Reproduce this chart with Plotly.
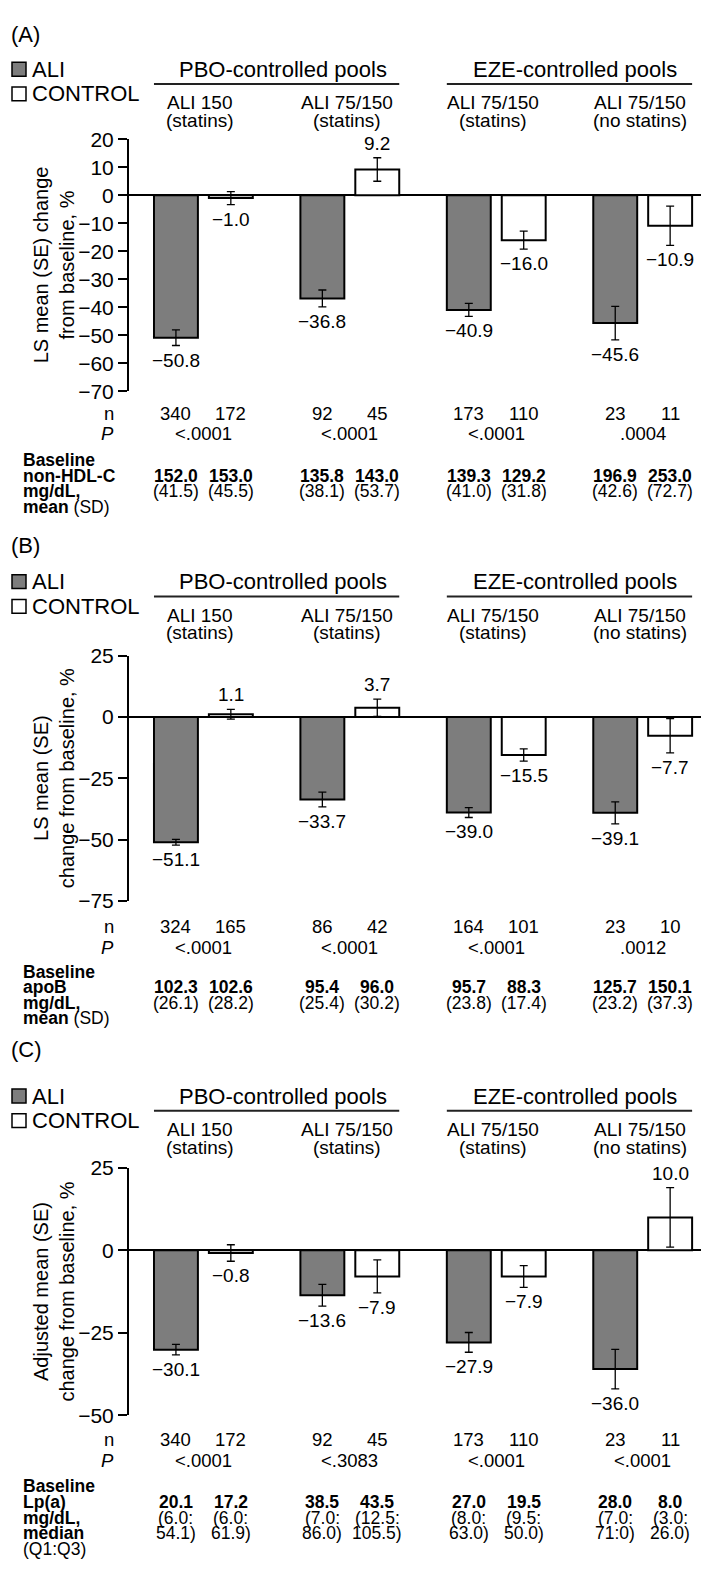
import plotly.graph_objects as go

W, H = 709, 1570
FONT = "Liberation Sans, Arial, Helvetica, sans-serif"

# ---------------- data ----------------
groups_top = ["ALI 150", "ALI 75/150", "ALI 75/150", "ALI 75/150"]
groups_bot = ["(statins)", "(statins)", "(statins)", "(no statins)"]
pools = ["PBO-controlled pools", "EZE-controlled pools"]

# Panel A: non-HDL-C
a_ali = [-50.8, -36.8, -40.9, -45.6]
a_ali_se = [2.8, 3.0, 2.3, 6.0]
a_ctl = [-1.0, 9.2, -16.0, -10.9]
a_ctl_se = [2.3, 4.2, 3.2, 7.0]
a_n_ali = ["340", "92", "173", "23"]
a_n_ctl = ["172", "45", "110", "11"]
a_p = ["<.0001", "<.0001", "<.0001", ".0004"]
a_base_ali = ["152.0", "135.8", "139.3", "196.9"]
a_base_ctl = ["153.0", "143.0", "129.2", "253.0"]
a_sd_ali = ["(41.5)", "(38.1)", "(41.0)", "(42.6)"]
a_sd_ctl = ["(45.5)", "(53.7)", "(31.8)", "(72.7)"]

# Panel B: apoB
b_ali = [-51.1, -33.7, -39.0, -39.1]
b_ali_se = [1.2, 3.0, 2.0, 4.5]
b_ctl = [1.1, 3.7, -15.5, -7.7]
b_ctl_se = [2.0, 3.5, 2.5, 7.0]
b_n_ali = ["324", "86", "164", "23"]
b_n_ctl = ["165", "42", "101", "10"]
b_p = ["<.0001", "<.0001", "<.0001", ".0012"]
b_base_ali = ["102.3", "95.4", "95.7", "125.7"]
b_base_ctl = ["102.6", "96.0", "88.3", "150.1"]
b_sd_ali = ["(26.1)", "(25.4)", "(23.8)", "(23.2)"]
b_sd_ctl = ["(28.2)", "(30.2)", "(17.4)", "(37.3)"]

# Panel C: Lp(a)
c_ali = [-30.1, -13.6, -27.9, -36.0]
c_ali_se = [1.6, 3.3, 3.0, 6.0]
c_ctl = [-0.8, -7.9, -7.9, 10.0]
c_ctl_se = [2.5, 5.0, 3.3, 9.0]
c_n_ali = ["340", "92", "173", "23"]
c_n_ctl = ["172", "45", "110", "11"]
c_p = ["<.0001", "<.3083", "<.0001", "<.0001"]
c_base_ali = ["20.1", "38.5", "27.0", "28.0"]
c_base_ctl = ["17.2", "43.5", "19.5", "8.0"]
c_q1_ali = ["(6.0:", "(7.0:", "(8.0:", "(7.0:"]
c_q1_ctl = ["(6.0:", "(12.5:", "(9.5:", "(3.0:"]
c_q3_ali = ["54.1)", "86.0)", "63.0)", "71:0)"]
c_q3_ctl = ["61.9)", "105.5)", "50.0)", "26.0)"]

panels = [
    dict(tag="(A)", ali=a_ali, ali_se=a_ali_se, ctl=a_ctl, ctl_se=a_ctl_se,
         n_ali=a_n_ali, n_ctl=a_n_ctl, p=a_p,
         rows_ali=[a_base_ali, a_sd_ali], rows_ctl=[a_base_ctl, a_sd_ctl],
         left=["<b>Baseline</b>", "<b>non-HDL-C</b>", "<b>mg/dL,</b>", "<b>mean</b> (SD)"],
         ytitle="LS mean (SE) change<br>from baseline, %",
         yrange=[-70, 20], ticks=[20, 10, 0, -10, -20, -30, -40, -50, -60, -70]),
    dict(tag="(B)", ali=b_ali, ali_se=b_ali_se, ctl=b_ctl, ctl_se=b_ctl_se,
         n_ali=b_n_ali, n_ctl=b_n_ctl, p=b_p,
         rows_ali=[b_base_ali, b_sd_ali], rows_ctl=[b_base_ctl, b_sd_ctl],
         left=["<b>Baseline</b>", "<b>apoB</b>", "<b>mg/dL,</b>", "<b>mean</b> (SD)"],
         ytitle="LS mean (SE)<br>change from baseline, %",
         yrange=[-75, 25], ticks=[25, 0, -25, -50, -75]),
    dict(tag="(C)", ali=c_ali, ali_se=c_ali_se, ctl=c_ctl, ctl_se=c_ctl_se,
         n_ali=c_n_ali, n_ctl=c_n_ctl, p=c_p,
         rows_ali=[c_base_ali, c_q1_ali, c_q3_ali], rows_ctl=[c_base_ctl, c_q1_ctl, c_q3_ctl],
         left=["<b>Baseline</b>", "<b>Lp(a)</b>", "<b>mg/dL,</b>", "<b>median</b>", "(Q1:Q3)"],
         ytitle="Adjusted mean (SE)<br>change from baseline, %",
         yrange=[-50, 25], ticks=[25, 0, -25, -50]),
]
# vertical layout (pixels from top of page)
lay = [
    dict(tag=15, head=0, ax=(121, 377), n=399, p=420, base=447, step=15.6),
    dict(tag=533, head=520, ax=(645, 894), n=920, p=941, base=966, step=15.6),
    dict(tag=1045, head=1042, ax=(1165, 1416), n=1441, p=1462, base=1488, step=16.0),
]

GRAY = "#7d7d7d"
xs = [0, 1, 2, 3]
OFF = 0.1875  # bar centre offset within a group (from bargap/bargroupgap)


def px(x):
    return x / W


def py(y):
    return 1 - y / H


fig = go.Figure()
annotations = []
shapes = []

AX_L, AX_R = 121, 706
for k, (pn, L) in enumerate(zip(panels, lay)):
    sfx = "" if k == 0 else str(k + 1)
    xa, ya = "x" + sfx, "y" + sfx
    top, bot = L["ax"]
    off = L["head"]

    fig.add_trace(go.Bar(x=xs, y=pn["ali"], xaxis=xa, yaxis=ya, marker=dict(color=GRAY, line=dict(color="black", width=2)),
                         error_y=dict(type="data", array=pn["ali_se"], color="black", thickness=1.3, width=4),
                         showlegend=False, name="ALI"))
    fig.add_trace(go.Bar(x=xs, y=pn["ctl"], xaxis=xa, yaxis=ya, marker=dict(color="white", line=dict(color="black", width=2)),
                         error_y=dict(type="data", array=pn["ctl_se"], color="black", thickness=1.3, width=4),
                         showlegend=False, name="CONTROL"))

    fig.update_layout(**{
        ("xaxis" + sfx): dict(domain=[px(AX_L), px(AX_R)], range=[-0.508, 3.487], visible=False, anchor=ya),
        ("yaxis" + sfx): dict(domain=[py(bot), py(top)], range=pn["yrange"], tickvals=pn["ticks"],
                              showline=True, linecolor="black", linewidth=2, ticks="outside", ticklen=9,
                              tickwidth=2, tickcolor="black", showgrid=False, zeroline=True,
                              zerolinecolor="black", zerolinewidth=2, anchor=xa,
                              tickfont=dict(size=21, color="black", family=FONT)),
    })

    # panel tag
    annotations.append(dict(text=pn["tag"], x=px(1), y=py(L["tag"]), xanchor="left", yanchor="middle",
                            font=dict(size=22)))
    # legend
    for j, (lbl, col) in enumerate([("ALI", GRAY), ("CONTROL", "white")]):
        cy = off + 50 + j * 25
        shapes.append(dict(type="rect", xref="paper", yref="paper", x0=px(4), x1=px(18), y0=py(cy + 7), y1=py(cy - 7),
                           fillcolor=col, line=dict(color="black", width=1.5)))
        annotations.append(dict(text=lbl, x=px(22), y=py(cy), xanchor="left", yanchor="middle", font=dict(size=22)))
    # pool headers
    for g, name in enumerate(pools):
        c = 2 * g + 0.5
        annotations.append(dict(text=name, xref=xa, x=c, y=py(off + 50), xanchor="center", yanchor="middle",
                                xshift=6, font=dict(size=22)))
        shapes.append(dict(type="line", xref=xa, yref="paper", x0=2 * g - 0.3375, x1=2 * g + 1.3375,
                           y0=py(off + 65), y1=py(off + 65), line=dict(color="#222", width=2)))
    # group labels
    for i in range(4):
        annotations.append(dict(text=groups_top[i], xref=xa, x=i, y=py(off + 84), xanchor="center", yanchor="middle",
                                xshift=-3, font=dict(size=19)))
        annotations.append(dict(text=groups_bot[i], xref=xa, x=i, y=py(off + 102), xanchor="center", yanchor="middle",
                                xshift=-3, font=dict(size=19)))
    # value labels
    for vals, ses, o in [(pn["ali"], pn["ali_se"], -OFF), (pn["ctl"], pn["ctl_se"], OFF)]:
        for i in range(4):
            v, s = vals[i], ses[i]
            neg = v < 0
            annotations.append(dict(text=("−%.1f" % abs(v)) if neg else ("%.1f" % v), xref=xa, yref=ya,
                                    x=i + o, y=(v - s) if neg else (v + s),
                                    xanchor="center", yanchor="top" if neg else "bottom",
                                    yshift=-2 if neg else 2, font=dict(size=19)))
    # y title
    annotations.append(dict(text=pn["ytitle"], x=px(46), y=py((top + bot) / 2), xanchor="center", yanchor="middle",
                            textangle=-90, font=dict(size=20)))
    # n and P rows
    annotations.append(dict(text="n", x=px(108), y=py(L["n"]), xanchor="right", yanchor="middle", font=dict(size=18.5)))
    annotations.append(dict(text="<i>P</i>", x=px(108), y=py(L["p"]), xanchor="right", yanchor="middle", font=dict(size=18.5)))
    for i in range(4):
        annotations.append(dict(text=pn["n_ali"][i], xref=xa, x=i - OFF, y=py(L["n"]), xanchor="center",
                                yanchor="middle", font=dict(size=18.5)))
        annotations.append(dict(text=pn["n_ctl"][i], xref=xa, x=i + OFF, y=py(L["n"]), xanchor="center",
                                yanchor="middle", font=dict(size=18.5)))
        annotations.append(dict(text=pn["p"][i], xref=xa, x=i, y=py(L["p"]), xanchor="center",
                                yanchor="middle", font=dict(size=18.5)))
    # baseline block
    for r, lbl in enumerate(pn["left"]):
        annotations.append(dict(text=lbl, x=px(13), y=py(L["base"] + r * L["step"]), xanchor="left", yanchor="middle",
                                font=dict(size=17.5)))
    for r, (ra, rc) in enumerate(zip(pn["rows_ali"], pn["rows_ctl"])):
        yy = py(L["base"] + (r + 1) * L["step"])
        for i in range(4):
            ta, tc = (("<b>%s</b>" % ra[i], "<b>%s</b>" % rc[i]) if r == 0 else (ra[i], rc[i]))
            annotations.append(dict(text=ta, xref=xa, x=i - OFF, y=yy, xanchor="center", yanchor="middle",
                                    font=dict(size=17.5)))
            annotations.append(dict(text=tc, xref=xa, x=i + OFF, y=yy, xanchor="center", yanchor="middle",
                                    font=dict(size=17.5)))

for a in annotations:
    a.setdefault("xref", "paper")
    a.setdefault("yref", "paper")
    a["showarrow"] = False

fig.update_layout(width=W, height=H, margin=dict(l=0, r=0, t=0, b=0), paper_bgcolor="white", plot_bgcolor="white",
                  barmode="group", bargap=0.25, bargroupgap=0.2, annotations=annotations, shapes=shapes,
                  font=dict(family=FONT, color="black", size=18))
fig.write_html("out.html")
